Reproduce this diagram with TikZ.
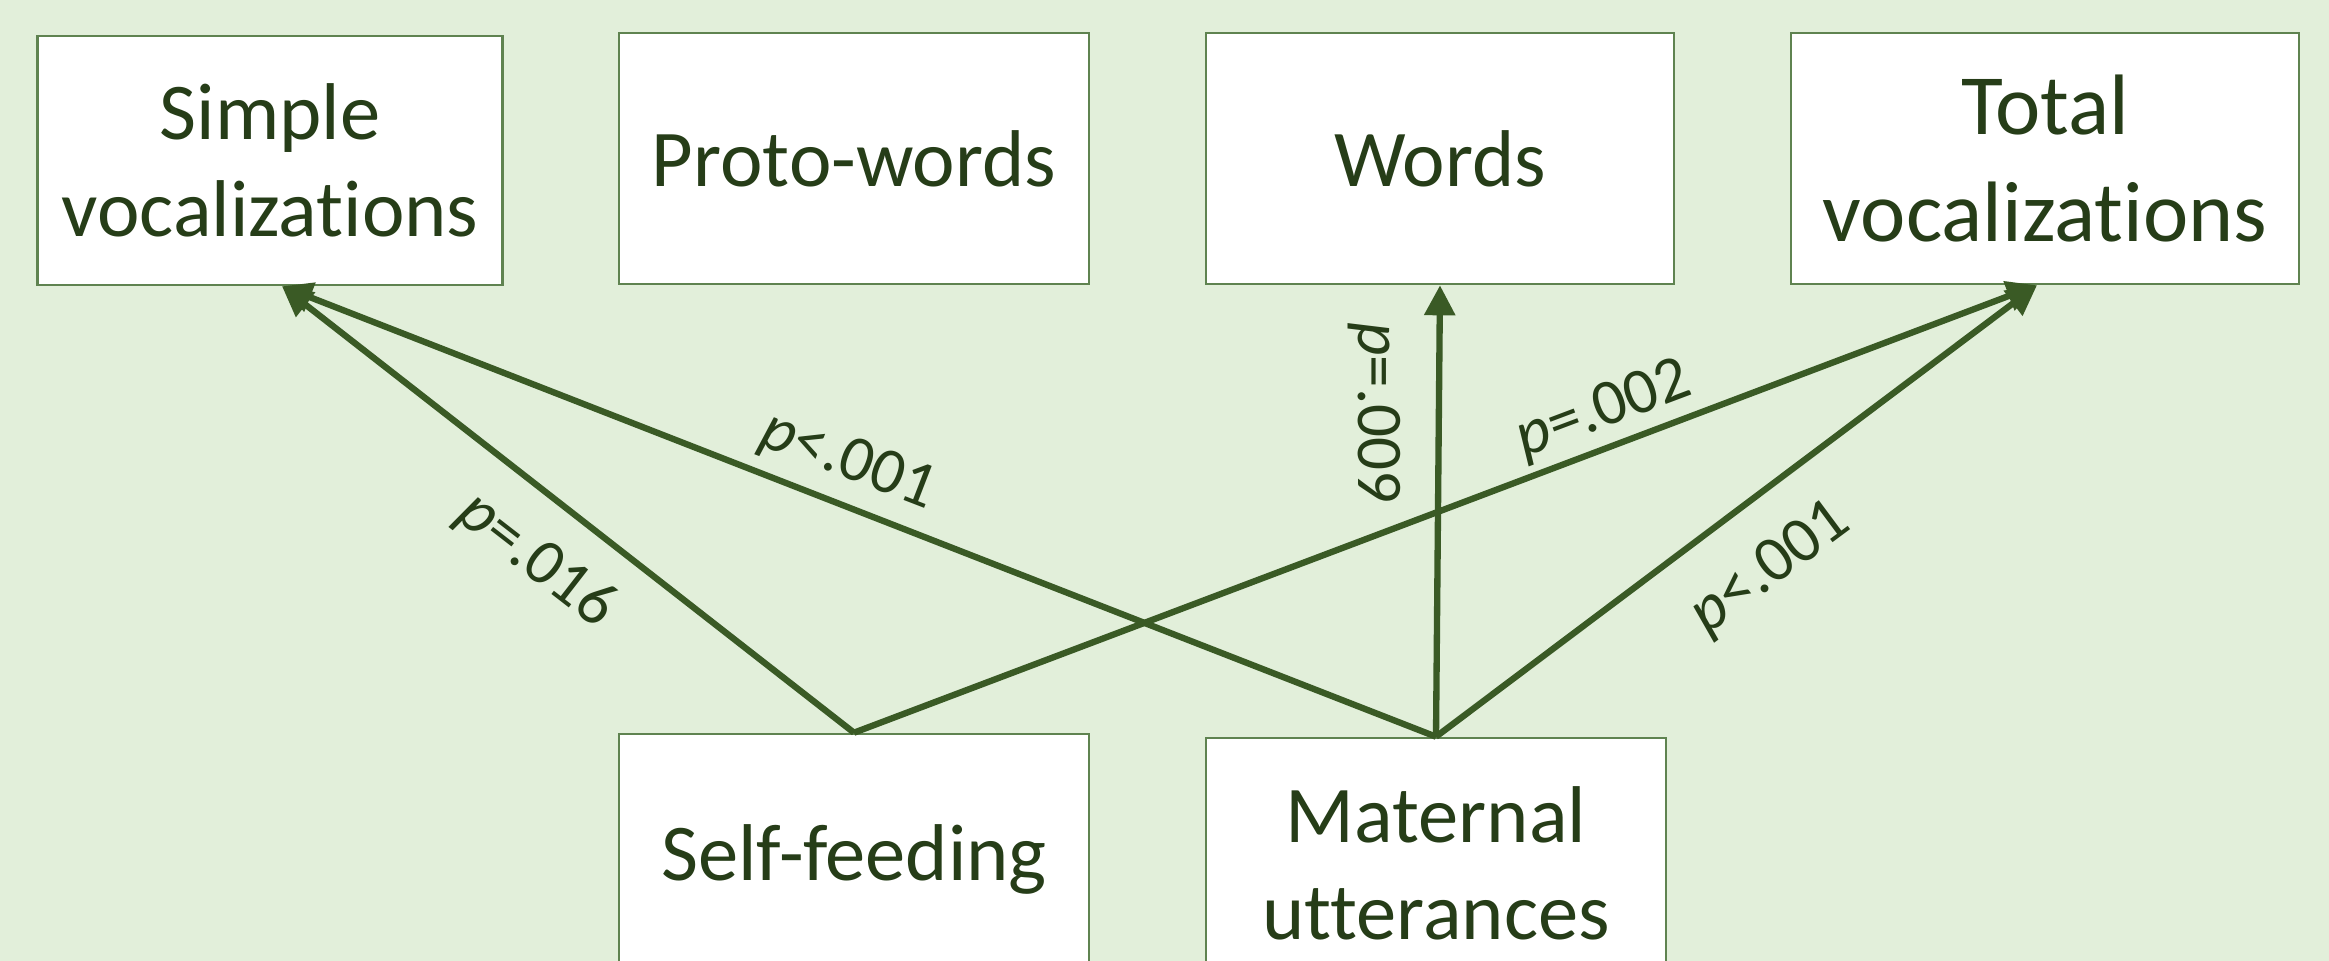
\documentclass[tikz,border=0pt]{standalone}
\usepackage{fontspec}
\setmainfont{Carlito}[Ligatures={NoCommon}]
\usetikzlibrary{arrows.meta}
\definecolor{bg}{HTML}{E2EFDA}
\definecolor{arr}{HTML}{3A5A25}
\definecolor{txt}{HTML}{263D18}
\definecolor{bord}{HTML}{5F8350}
\begin{document}
\begin{tikzpicture}[x=0.01cm,y=-0.01cm,
  box/.style={draw=bord, line width=0.7pt, fill=white, align=center, inner sep=0pt,
    font=\fontsize{22.9}{27.6}\selectfont, text=txt},
  lab/.style={font=\fontsize{18.5}{22}\selectfont, text=txt, inner sep=0pt},
  conn/.style={draw=arr, line width=1.8pt, -{Triangle[length=3mm,width=3mm]}}]
\fill[bg] (0,0) rectangle (2329,961);
\useasboundingbox (0,0) rectangle (2329,961);
\node[box, minimum width=4.65cm, minimum height=2.49cm] (simple) at (270,160.5) {Simple\\vocalizations};
\node[box, minimum width=4.70cm, minimum height=2.51cm] (proto) at (854,158.5) {Proto-words};
\node[box, minimum width=4.68cm, minimum height=2.51cm] (words) at (1440,158.5) {Words};
\node[box, minimum width=5.08cm, minimum height=2.51cm, font=\fontsize{24.4}{30.5}\selectfont] (total) at (2045,158.5) {Total\\vocalizations};
\node[box, minimum width=4.70cm, minimum height=2.50cm] (self) at (854,859) {Self-feeding};
\node[box, minimum width=4.60cm, minimum height=2.50cm] (mat) at (1436,863) {Maternal\\utterances};
\draw[conn] (self.north) -- ([xshift=0.12cm]simple.south);
\draw[conn] (mat.north) -- ([xshift=0.12cm]simple.south);
\draw[conn] (self.north) -- ([xshift=-0.08cm]total.south);
\draw[conn] (mat.north) -- ([xshift=-0.08cm]total.south);
\draw[conn] (mat.north) -- (words.south);
\node[lab, rotate=-37.8] (l1) at (536,561) {\textit{p}=.016};
\node[lab, rotate=-21.1] (l2) at (848,462) {\textit{p}<.001};
\node[lab, rotate=20.6] (l3) at (1604,411) {\textit{p}=.002};
\node[lab, rotate=36.6] (l4) at (1771,569) {\textit{p}<.001};
\node[lab, rotate=-90] (l5) at (1374,413) {\textit{p}=.009};
\end{tikzpicture}
\end{document}
